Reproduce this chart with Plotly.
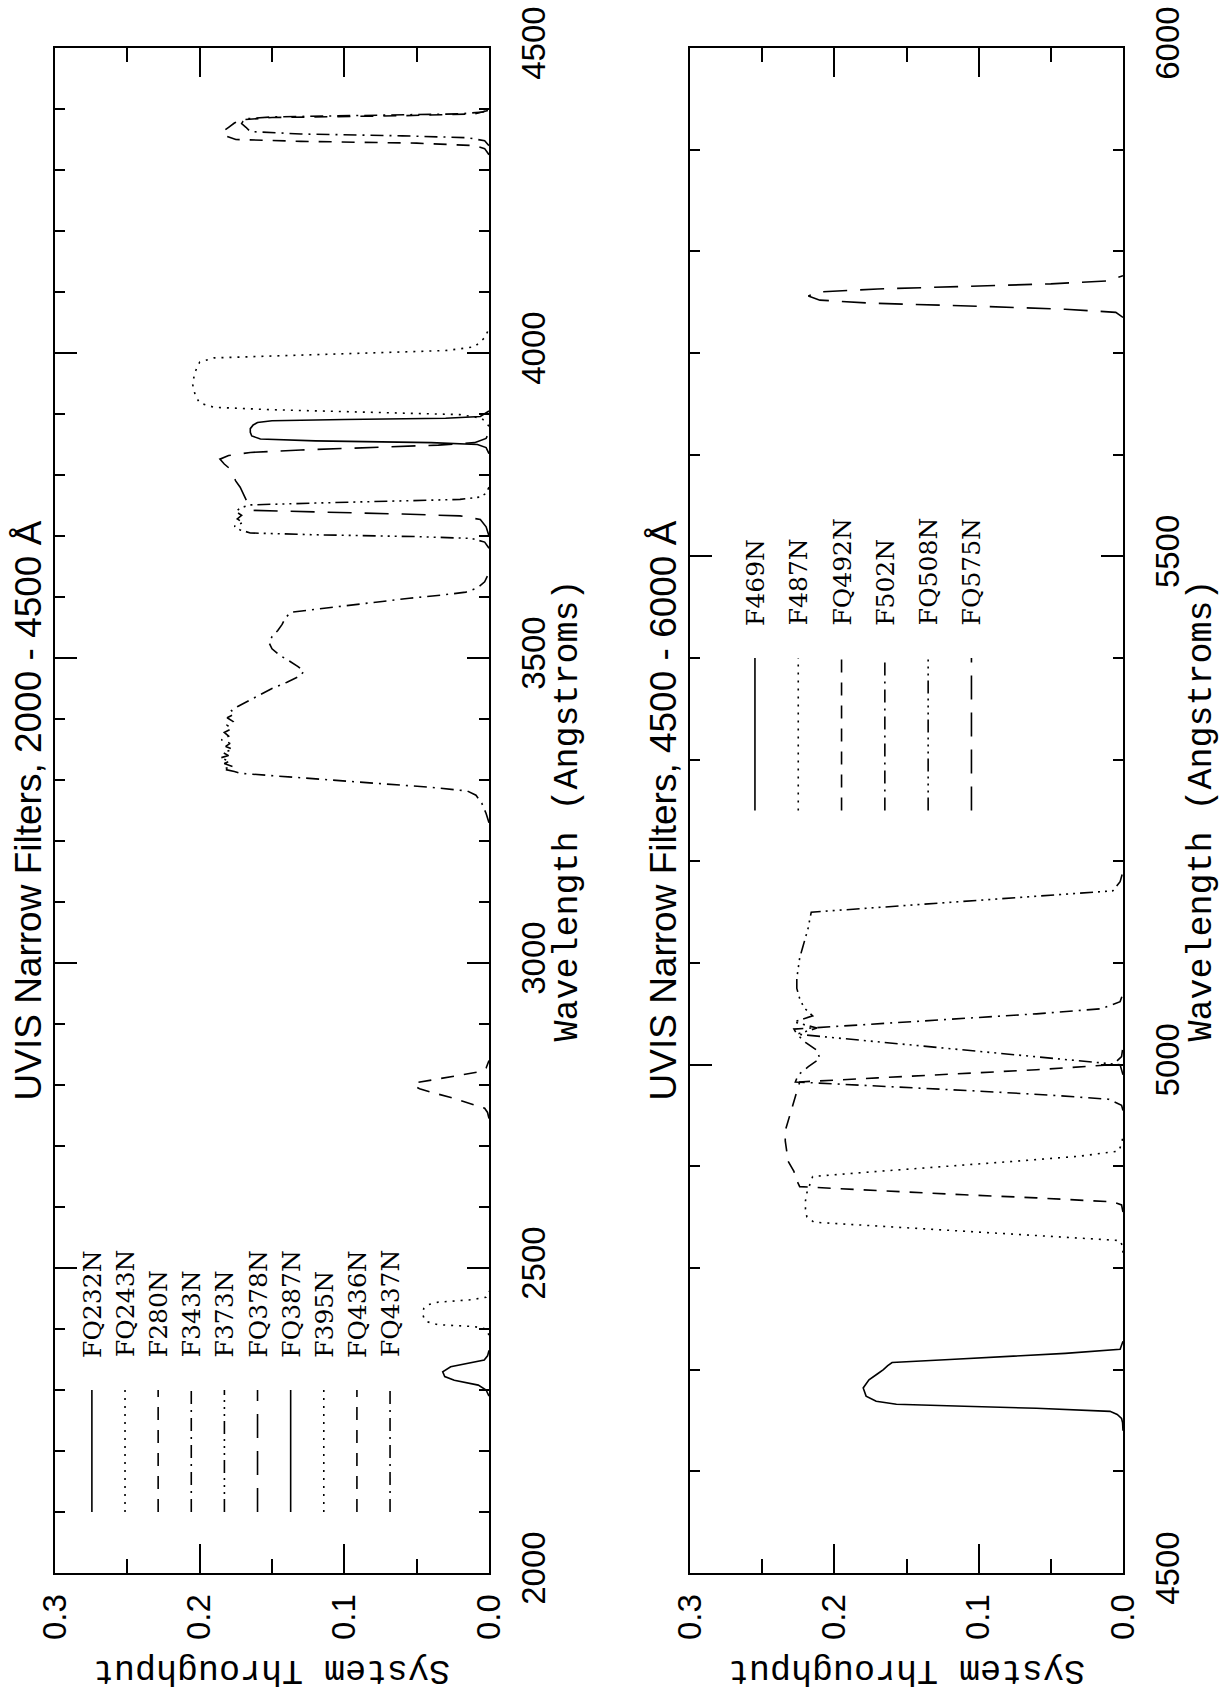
import plotly.graph_objects as go

# ---------------- filter curves, 2000-4500 A (wavelength in A, throughput) ----------------
fq232n_wl = [2290, 2300, 2308, 2316, 2322, 2330, 2338, 2344, 2349, 2356, 2365]
fq232n_tp = [0, 0.002, 0.0074, 0.024, 0.0306, 0.032, 0.0265, 0.0142, 0.0033, 0.001, 0]

fq243n_wl = [2390, 2400, 2404, 2407, 2412, 2418, 2426, 2434, 2440, 2444, 2448, 2452, 2462]
fq243n_tp = [0, 0.002, 0.01, 0.035, 0.043, 0.045, 0.046, 0.045, 0.042, 0.035, 0.012, 0.002, 0]

f280n_wl = [2745, 2755, 2762, 2770, 2780, 2788, 2794, 2799, 2804, 2810, 2816, 2821, 2828, 2840]
f280n_tp = [0, 0.001, 0.003, 0.013, 0.027, 0.04, 0.048, 0.052, 0.05, 0.035, 0.02, 0.0085, 0.002, 0]

f343n_wl = [3230, 3245, 3262, 3275, 3282, 3288, 3294, 3300, 3306, 3311, 3314, 3318, 3322, 3327,
            3331, 3336, 3340, 3345, 3350, 3355, 3360, 3366, 3372, 3378, 3384, 3390, 3396, 3402,
            3408, 3414, 3420, 3430, 3440, 3450, 3460, 3470, 3478, 3486, 3495, 3505, 3515, 3525,
            3535, 3545, 3555, 3565, 3575, 3580, 3586, 3592, 3598, 3603, 3608, 3615, 3625, 3640]
f343n_tp = [0, 0.002, 0.005, 0.009, 0.015, 0.04, 0.075, 0.11, 0.145, 0.172, 0.176, 0.184, 0.177, 0.183,
            0.179, 0.186, 0.18, 0.184, 0.177, 0.182, 0.179, 0.185, 0.18, 0.183, 0.178, 0.181, 0.177, 0.181,
            0.176, 0.178, 0.174, 0.166, 0.158, 0.15, 0.14, 0.131, 0.128, 0.132, 0.138, 0.145, 0.15, 0.152,
            0.15, 0.146, 0.143, 0.141, 0.137, 0.12, 0.1, 0.078, 0.055, 0.033, 0.016, 0.008, 0.003, 0]

f373n_wl = [3680, 3690, 3696, 3699, 3702, 3705, 3710, 3716, 3722, 3728, 3734, 3740, 3746, 3751,
            3754, 3757, 3760, 3764, 3770, 3780]
f373n_tp = [0, 0.003, 0.012, 0.05, 0.12, 0.165, 0.172, 0.176, 0.17, 0.174, 0.171, 0.175, 0.172, 0.165,
            0.12, 0.06, 0.02, 0.006, 0.002, 0]

fq378n_wl = [3700, 3715, 3727, 3733, 3736, 3739, 3742, 3750, 3760, 3770, 3780, 3790, 3800, 3810,
             3818, 3826, 3832, 3837, 3841, 3845, 3849, 3853, 3860, 3870]
fq378n_tp = [0, 0.002, 0.006, 0.02, 0.06, 0.12, 0.163, 0.166, 0.168, 0.17, 0.172, 0.175, 0.177, 0.179,
             0.183, 0.186, 0.18, 0.165, 0.13, 0.08, 0.035, 0.01, 0.002, 0]

fq387n_wl = [3835, 3845, 3850, 3853, 3856, 3859, 3864, 3870, 3876, 3882, 3886, 3889, 3891, 3893, 3896, 3905]
fq387n_tp = [0, 0.002, 0.008, 0.04, 0.12, 0.158, 0.164, 0.165, 0.165, 0.163, 0.16, 0.15, 0.1, 0.03, 0.006, 0]

f395n_wl = [3880, 3893, 3899, 3903, 3907, 3911, 3918, 3930, 3950, 3970, 3985, 3992, 3996, 4000,
            4004, 4010, 4025, 4040]
f395n_tp = [0, 0.005, 0.02, 0.08, 0.15, 0.19, 0.2, 0.203, 0.205, 0.203, 0.2, 0.19, 0.14, 0.08,
            0.03, 0.01, 0.003, 0]

fq436n_wl = [4325, 4335, 4340, 4344, 4347, 4350, 4356, 4363, 4370, 4377, 4382, 4386, 4389, 4392, 4398]
fq436n_tp = [0, 0.003, 0.01, 0.05, 0.13, 0.175, 0.182, 0.184, 0.18, 0.176, 0.172, 0.15, 0.06, 0.01, 0]

fq437n_wl = [4340, 4348, 4353, 4356, 4359, 4363, 4370, 4376, 4380, 4384, 4387, 4390, 4392, 4395, 4402]
fq437n_tp = [0, 0.003, 0.015, 0.06, 0.13, 0.165, 0.168, 0.171, 0.17, 0.168, 0.15, 0.07, 0.02, 0.004, 0]

# ---------------- filter curves, 4500-6000 A ----------------
f469n_wl = [4640, 4648, 4652, 4656, 4659, 4662, 4664, 4666, 4669, 4674, 4682, 4690, 4696, 4700,
            4704, 4707, 4710, 4713, 4716, 4720, 4728]
f469n_tp = [0, 0.0003, 0.001, 0.004, 0.009, 0.06, 0.11, 0.157, 0.171, 0.178, 0.18, 0.176, 0.17, 0.166,
            0.163, 0.16, 0.12, 0.08, 0.04, 0.002, 0]

f487n_wl = [4815, 4822, 4827, 4832, 4836, 4841, 4845, 4850, 4858, 4866, 4874, 4882, 4890, 4895,
            4900, 4905, 4910, 4915, 4922, 4930]
f487n_tp = [0, 0.0005, 0.002, 0.06, 0.11, 0.17, 0.214, 0.219, 0.22, 0.22, 0.219, 0.217, 0.215, 0.17,
            0.12, 0.075, 0.03, 0.003, 0.001, 0]

fq492n_wl = [4855, 4862, 4865, 4869, 4872, 4876, 4880, 4886, 4895, 4905, 4915, 4925, 4935, 4945,
             4955, 4965, 4975, 4983, 4987, 4991, 4995, 5000, 5008, 5018]
fq492n_tp = [0, 0.001, 0.007, 0.06, 0.11, 0.17, 0.224, 0.226, 0.228, 0.232, 0.233, 0.234, 0.234, 0.232,
             0.23, 0.228, 0.226, 0.224, 0.17, 0.115, 0.06, 0.007, 0.001, 0]

f502n_wl = [4955, 4960, 4966, 4970, 4974, 4978, 4983, 4990, 4998, 5006, 5014, 5022, 5030, 5035,
            5040, 5045, 5050, 5055, 5062, 5070]
f502n_tp = [0, 0.001, 0.01, 0.05, 0.1, 0.16, 0.227, 0.225, 0.218, 0.21, 0.212, 0.22, 0.226, 0.228,
            0.17, 0.115, 0.06, 0.015, 0.002, 0]

fq508n_wl = [4990, 5000, 5006, 5012, 5018, 5024, 5030, 5036, 5042, 5048, 5056, 5065, 5075, 5085,
             5095, 5105, 5115, 5125, 5135, 5143, 5150, 5154, 5158, 5162, 5166, 5171, 5180, 5190]
fq508n_tp = [0, 0.002, 0.047, 0.092, 0.137, 0.183, 0.226, 0.212, 0.228, 0.215, 0.221, 0.224, 0.226, 0.226,
             0.225, 0.224, 0.222, 0.22, 0.218, 0.217, 0.216, 0.176, 0.136, 0.097, 0.057, 0.007, 0.002, 0]

fq575n_wl = [5735, 5740, 5743, 5746, 5749, 5752, 5756, 5760, 5763, 5766, 5768, 5771, 5776]
fq575n_tp = [0, 0.005, 0.04, 0.1, 0.175, 0.21, 0.218, 0.212, 0.17, 0.1, 0.05, 0.01, 0]

# ---------------- panel contents ----------------
top_names = ["FQ232N", "FQ243N", "F280N", "F343N", "F373N", "FQ378N", "FQ387N", "F395N", "FQ436N", "FQ437N"]
top_styles = ["solid", "dot", "dash", "dashdot", "dashdot3", "longdash", "solid", "dot", "dash", "dashdot"]
top_curves = [(fq232n_wl, fq232n_tp), (fq243n_wl, fq243n_tp), (f280n_wl, f280n_tp), (f343n_wl, f343n_tp),
              (f373n_wl, f373n_tp), (fq378n_wl, fq378n_tp), (fq387n_wl, fq387n_tp), (f395n_wl, f395n_tp),
              (fq436n_wl, fq436n_tp), (fq437n_wl, fq437n_tp)]

bot_names = ["F469N", "F487N", "FQ492N", "F502N", "FQ508N", "FQ575N"]
bot_styles = ["solid", "dot", "dash", "dashdot", "dashdot3", "longdash"]
bot_curves = [(f469n_wl, f469n_tp), (f487n_wl, f487n_tp), (fq492n_wl, fq492n_tp), (f502n_wl, f502n_tp),
              (fq508n_wl, fq508n_tp), (fq575n_wl, fq575n_tp)]

DASH = {
    "solid": "solid",
    "dot": "2px,6px",
    "dash": "13px,10px",
    "dashdot": "13px,6px,2px,6px",
    "dashdot3": "13px,5px,2px,5px,2px,5px,2px,5px",
    "longdash": "24px,13px",
}

W, H = 1222, 1692
# panel frames in pixels: (left, right), shared top/bottom
TOP_X = (55, 489)
BOT_X = (690, 1123)
FRAME_Y = (48, 1573)

def px(v):
    return v / W

def py(v):
    return 1 - v / H

fig = go.Figure()

def add_panel(curves, styles, names, xa, ya, leg_start, leg_step, leg_wl, label_wl):
    for (wl, tp), st in zip(curves, styles):
        fig.add_trace(go.Scatter(x=tp, y=wl, mode="lines", xaxis=xa, yaxis=ya,
                                 line=dict(color="black", width=1.6, dash=DASH[st]),
                                 showlegend=False, hoverinfo="skip"))
    for i, (nm, st) in enumerate(zip(names, styles)):
        xpos = leg_start - i * leg_step
        fig.add_trace(go.Scatter(x=[xpos, xpos], y=list(leg_wl), mode="lines", xaxis=xa, yaxis=ya,
                                 line=dict(color="black", width=1.6, dash=DASH[st]),
                                 showlegend=False, hoverinfo="skip"))
        fig.add_annotation(x=xpos, y=label_wl, xref=xa, yref=ya, text=nm, showarrow=False,
                           textangle=-90, xanchor="center", yanchor="bottom",
                           font=dict(family="DejaVu Serif", size=25, color="black"))

add_panel(top_curves, top_styles, top_names, "x", "y", 0.2745, 0.0229, (2100, 2300), 2350)
add_panel(bot_curves, bot_styles, bot_names, "x2", "y2", 0.255, 0.03, (5250, 5400), 5430)

tick_font = dict(family="Liberation Sans", size=33, color="black")

def thr_axis(dom, anchor):
    return dict(domain=dom, anchor=anchor, range=[0.3, 0], tickmode="linear", tick0=0, dtick=0.1,
                tickformat=".1f", ticks="inside", ticklen=29, tickwidth=1.5, tickcolor="black",
                minor=dict(tick0=0, dtick=0.05, ticks="inside", ticklen=14, tickwidth=1.5,
                           tickcolor="black", showgrid=False),
                showline=True, linewidth=2, linecolor="black", mirror="allticks",
                showgrid=False, zeroline=False, tickangle=-90, tickfont=tick_font,
                ticklabelstandoff=6, side="bottom", automargin=False)

def wl_axis(rng, anchor):
    return dict(domain=[py(FRAME_Y[1]), py(FRAME_Y[0])], anchor=anchor, range=rng, tickmode="linear",
                tick0=0, dtick=500, ticks="inside", ticklen=22, tickwidth=1.5, tickcolor="black",
                minor=dict(tick0=0, dtick=100, ticks="inside", ticklen=10, tickwidth=1.5,
                           tickcolor="black", showgrid=False),
                showline=True, linewidth=2, linecolor="black", mirror="allticks",
                showgrid=False, zeroline=False, tickangle=-90, tickfont=tick_font,
                ticklabelstandoff=14, side="right", automargin=False)

fig.update_layout(
    template="none",
    width=W, height=H, margin=dict(l=0, r=0, t=0, b=0, autoexpand=False),
    paper_bgcolor="white", plot_bgcolor="white", showlegend=False,
    xaxis=thr_axis([px(TOP_X[0]), px(TOP_X[1])], "y"),
    yaxis=wl_axis([2000, 4500], "x"),
    xaxis2=thr_axis([px(BOT_X[0]), px(BOT_X[1])], "y2"),
    yaxis2=wl_axis([4500, 6000], "x2"),
)

title_font = dict(family="Liberation Sans", size=37, color="black")
label_font = dict(family="Liberation Mono", size=35, color="black")
mid_y = py((FRAME_Y[0] + FRAME_Y[1]) / 2)

for (xl, xr), title in [(TOP_X, "UVIS Narrow Filters, 2000 - 4500 Å"),
                        (BOT_X, "UVIS Narrow Filters, 4500 - 6000 Å")]:
    fig.add_annotation(x=px(xl - 27), y=mid_y, xref="paper", yref="paper", text=title,
                       showarrow=False, textangle=-90, font=title_font,
                       xanchor="center", yanchor="middle")
    fig.add_annotation(x=px(xr + 79), y=mid_y, xref="paper", yref="paper",
                       text="Wavelength (Angstroms)", showarrow=False, textangle=-90,
                       font=label_font, xanchor="center", yanchor="middle")
    fig.add_annotation(x=px((xl + xr) / 2), y=py(1670), xref="paper", yref="paper",
                       text="System Throughput", showarrow=False, textangle=180,
                       font=label_font, xanchor="center", yanchor="middle")

fig.write_html("out.html")
